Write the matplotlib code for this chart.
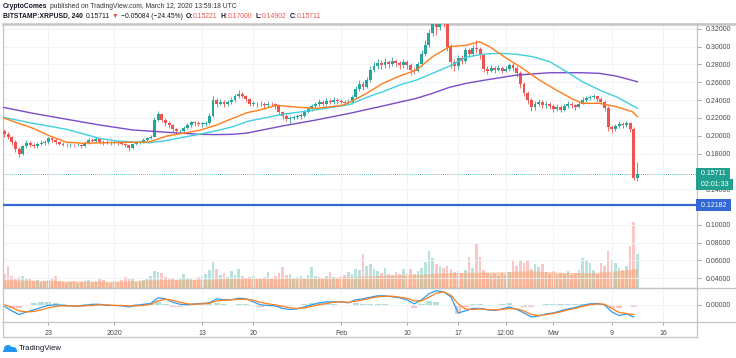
import numpy as np
import pandas as pd
import matplotlib
matplotlib.use("Agg")
import matplotlib.pyplot as plt
from matplotlib.lines import Line2D
from matplotlib.patches import Ellipse, Rectangle

plt.rcParams['font.family'] = ['Liberation Sans', 'DejaVu Sans']

W, H = 736, 358

# BITSTAMP:XRPUSD, resampled to 12h candles
first_candle = '2019-12-17 00:00'
closes = [0.202, 0.198, 0.193, 0.185, 0.180, 0.188, 0.192, 0.190, 0.188, 0.191,
          0.192, 0.193, 0.197, 0.195, 0.193, 0.191, 0.190, 0.189, 0.190, 0.189,
          0.190, 0.188, 0.192, 0.195, 0.194, 0.196, 0.193, 0.192, 0.193, 0.192,
          0.193, 0.192, 0.191, 0.189, 0.186, 0.191, 0.192, 0.193, 0.195, 0.197,
          0.199, 0.218, 0.224, 0.218, 0.214, 0.212, 0.207, 0.205, 0.205, 0.209,
          0.212, 0.215, 0.214, 0.213, 0.213, 0.214, 0.222, 0.240, 0.236, 0.238,
          0.235, 0.238, 0.240, 0.244, 0.247, 0.245, 0.241, 0.236, 0.236, 0.235,
          0.236, 0.234, 0.236, 0.235, 0.233, 0.226, 0.222, 0.219, 0.220, 0.221,
          0.222, 0.222, 0.227, 0.230, 0.233, 0.235, 0.238, 0.236, 0.239, 0.238,
          0.240, 0.239, 0.238, 0.237, 0.238, 0.243, 0.252, 0.258, 0.255, 0.262,
          0.274, 0.278, 0.282, 0.279, 0.283, 0.280, 0.284, 0.281, 0.279, 0.283,
          0.279, 0.274, 0.273, 0.280, 0.292, 0.302, 0.315, 0.330, 0.322, 0.335,
          0.330, 0.300, 0.283, 0.278, 0.287, 0.284, 0.296, 0.292, 0.298, 0.297,
          0.290, 0.275, 0.273, 0.276, 0.274, 0.276, 0.273, 0.275, 0.279, 0.276,
          0.270, 0.258, 0.248, 0.240, 0.232, 0.236, 0.238, 0.234, 0.236, 0.233,
          0.230, 0.232, 0.229, 0.233, 0.236, 0.234, 0.232, 0.236, 0.240, 0.242,
          0.243, 0.244, 0.241, 0.238, 0.231, 0.210, 0.207, 0.211, 0.213, 0.212,
          0.214, 0.208, 0.152, 0.15711]
highs = [0.208, 0.204, 0.200, 0.195, 0.187, 0.190, 0.195, 0.194, 0.192, 0.193,
         0.195, 0.195, 0.199, 0.198, 0.197, 0.194, 0.193, 0.192, 0.192, 0.191,
         0.192, 0.191, 0.194, 0.197, 0.197, 0.198, 0.197, 0.195, 0.195, 0.194,
         0.195, 0.194, 0.193, 0.192, 0.190, 0.192, 0.194, 0.195, 0.197, 0.199,
         0.201, 0.221, 0.228, 0.225, 0.220, 0.216, 0.213, 0.209, 0.208, 0.211,
         0.214, 0.217, 0.217, 0.216, 0.215, 0.216, 0.225, 0.245, 0.242, 0.241,
         0.240, 0.240, 0.243, 0.247, 0.251, 0.249, 0.246, 0.242, 0.239, 0.238,
         0.239, 0.238, 0.239, 0.238, 0.237, 0.234, 0.228, 0.224, 0.222, 0.223,
         0.224, 0.225, 0.229, 0.232, 0.236, 0.238, 0.241, 0.240, 0.242, 0.241,
         0.243, 0.242, 0.241, 0.240, 0.241, 0.246, 0.256, 0.263, 0.261, 0.266,
         0.278, 0.283, 0.286, 0.285, 0.287, 0.285, 0.288, 0.286, 0.284, 0.286,
         0.285, 0.281, 0.277, 0.283, 0.296, 0.307, 0.320, 0.338, 0.334, 0.342,
         0.340, 0.332, 0.303, 0.286, 0.291, 0.290, 0.300, 0.298, 0.302, 0.307,
         0.299, 0.292, 0.278, 0.279, 0.278, 0.279, 0.278, 0.278, 0.282, 0.281,
         0.278, 0.272, 0.260, 0.250, 0.242, 0.239, 0.241, 0.240, 0.239, 0.238,
         0.235, 0.235, 0.234, 0.236, 0.239, 0.238, 0.236, 0.238, 0.243, 0.245,
         0.246, 0.247, 0.245, 0.243, 0.240, 0.233, 0.212, 0.213, 0.216, 0.215,
         0.216, 0.215, 0.210, 0.170]
lows = [0.199, 0.196, 0.190, 0.182, 0.176, 0.178, 0.186, 0.187, 0.186, 0.186,
        0.189, 0.190, 0.191, 0.193, 0.191, 0.189, 0.188, 0.187, 0.187, 0.187,
        0.188, 0.186, 0.187, 0.191, 0.192, 0.193, 0.191, 0.190, 0.191, 0.190,
        0.191, 0.190, 0.189, 0.187, 0.183, 0.185, 0.190, 0.191, 0.192, 0.194,
        0.196, 0.198, 0.216, 0.215, 0.211, 0.209, 0.204, 0.202, 0.203, 0.204,
        0.207, 0.210, 0.211, 0.211, 0.210, 0.211, 0.213, 0.221, 0.232, 0.234,
        0.232, 0.233, 0.236, 0.238, 0.242, 0.242, 0.238, 0.233, 0.233, 0.232,
        0.233, 0.231, 0.232, 0.233, 0.230, 0.223, 0.219, 0.216, 0.214, 0.218,
        0.219, 0.219, 0.221, 0.225, 0.228, 0.231, 0.233, 0.233, 0.234, 0.235,
        0.236, 0.236, 0.235, 0.234, 0.235, 0.236, 0.241, 0.250, 0.251, 0.253,
        0.260, 0.271, 0.275, 0.275, 0.276, 0.276, 0.278, 0.277, 0.275, 0.276,
        0.275, 0.268, 0.269, 0.271, 0.278, 0.289, 0.299, 0.312, 0.313, 0.318,
        0.322, 0.295, 0.276, 0.272, 0.275, 0.280, 0.282, 0.288, 0.289, 0.293,
        0.286, 0.271, 0.269, 0.271, 0.270, 0.272, 0.270, 0.271, 0.273, 0.273,
        0.266, 0.254, 0.244, 0.236, 0.228, 0.229, 0.233, 0.231, 0.231, 0.230,
        0.227, 0.228, 0.226, 0.228, 0.231, 0.231, 0.229, 0.231, 0.235, 0.238,
        0.240, 0.241, 0.238, 0.235, 0.228, 0.205, 0.203, 0.205, 0.209, 0.209,
        0.210, 0.204, 0.150, 0.14902]
opens = [0.205] + closes[:-1]
volumes = [14, 22, 12, 9, 11, 12, 9, 10, 7, 8,
           6, 7, 8, 10, 12, 7, 6, 5, 6, 7,
           5, 6, 7, 8, 6, 7, 9, 8, 6, 5,
           7, 6, 8, 11, 10, 9, 6, 7, 8, 9,
           12, 17, 16, 15, 11, 9, 10, 8, 9, 14,
           10, 9, 8, 11, 12, 14, 18, 26, 19, 13,
           15, 11, 17, 13, 19, 12, 10, 11, 12, 9,
           10, 11, 16, 10, 12, 15, 21, 13, 14, 10,
           11, 12, 9, 13, 21, 12, 11, 10, 12, 16,
           11, 10, 12, 13, 16, 14, 19, 18, 34, 22,
           24, 19, 17, 15, 20, 14, 13, 16, 14, 19,
           15, 19, 14, 17, 20, 26, 37, 30, 24, 22,
           20, 22, 19, 16, 17, 15, 18, 31, 20, 44,
           31, 18, 15, 13, 14, 12, 15, 13, 16, 28,
           22, 27, 25, 28, 19, 24, 21, 24, 16, 14,
           17, 13, 15, 14, 17, 13, 15, 18, 30, 27,
           25, 18, 14, 25, 22, 37, 28, 25, 20, 18,
           22, 42, 66, 34]

# moving averages (days from 2020-01-01, price)
ma_fast_days = [-15.2, -11.1, -8.8, -6.5, -4.3, -2.0, 2.5, 4.8, 7.2, 9.4, 11.7, 14.0, 16.2, 18.2,
                19.5, 22.2, 25.3, 27.6, 31.2, 32.2, 34.5, 36.7, 39.0, 41.3, 43.5, 45.8, 48.1,
                49.9, 51.3, 53.6, 55.8, 58.1, 60.4, 62.7, 64.0, 66.3, 68.6, 70.8, 71.5]
ma_fast = [0.2200, 0.2083, 0.1996, 0.1926, 0.1915, 0.1920, 0.1926, 0.1930, 0.1996, 0.2027,
           0.2060, 0.2120, 0.2195, 0.2260, 0.2280, 0.2340, 0.2318, 0.2307, 0.2340, 0.2375,
           0.2475, 0.2587, 0.2669, 0.2737, 0.2886, 0.2998, 0.3014, 0.3054, 0.2998, 0.2868,
           0.2756, 0.2624, 0.2512, 0.2408, 0.2363, 0.2363, 0.2326, 0.2269, 0.2213]
ma_mid_days = [-15.2, -11.1, -6.5, -2.0, 0.3, 4.8, 7.2, 9.4, 11.7, 14.0, 16.2, 18.2, 23.0, 27.6,
               32.2, 34.5, 36.7, 39.0, 41.3, 43.5, 45.8, 48.1, 50.4, 52.7, 55.0, 57.2, 59.5,
               61.8, 64.0, 66.3, 68.6, 71.5]
ma_mid = [0.2206, 0.2139, 0.2071, 0.1970, 0.1940, 0.1920, 0.1946, 0.1982, 0.2016, 0.2056,
          0.2100, 0.2160, 0.2240, 0.2290, 0.2350, 0.2430, 0.2493, 0.2568, 0.2624, 0.2700,
          0.2780, 0.2880, 0.2915, 0.2924, 0.2913, 0.2886, 0.2830, 0.2718, 0.2605, 0.2512,
          0.2437, 0.2307]
ma_slow_days = [-15.2, -11.1, -6.5, -2.0, 2.5, 7.2, 11.7, 14.0, 16.2, 18.2, 23.0, 27.6, 32.2,
                36.7, 41.3, 43.5, 45.8, 48.1, 50.4, 52.7, 55.0, 59.5, 64.0, 66.3, 68.6, 71.5]
ma_slow = [0.2318, 0.2251, 0.2184, 0.2120, 0.2064, 0.2038, 0.2015, 0.2012, 0.2015, 0.2030,
           0.2109, 0.2176, 0.2251, 0.2333, 0.2419, 0.2475, 0.2542, 0.2587, 0.2620, 0.2650,
           0.2680, 0.2706, 0.2706, 0.2699, 0.2669, 0.2605]

vol_ma_days = [-15.2, -11, -7, -3, 1, 5, 9, 13, 17, 21, 25, 29, 33, 37, 41, 45, 49, 53,
               57, 61, 65, 69, 71.5]
vol_ma = [8, 7.5, 7, 6.5, 6.5, 8, 8.5, 8.5, 10, 10, 10, 10.5, 11, 12.5, 13, 15, 15.5, 16,
          17, 15.5, 15, 17, 19.5]

# MACD (daily samples, in 1e-3 USD), days -15 .. 71
macd_start = -15
macd = [-1.0, -4.2, -6.7, -4.9, -3.5, -1.8, -0.4, 0.0, -0.4, -0.7,
        -1.0, -0.4, 0.4, 0.4, -0.4, -0.4, -0.7, -1.4, -0.4, 0.4,
        1.0, 4.9, 4.2, 1.8, 0.4, 0.0, 0.7, 1.0, 1.4, 4.2,
        3.5, 3.5, 4.6, 4.2, 2.1, 0.0, -0.4, -0.7, -2.5, -3.2,
        -2.8, -1.4, 0.0, 1.4, 2.1, 2.1, 2.1, 1.4, 3.5, 4.2,
        5.3, 6.3, 6.3, 5.6, 4.9, 3.5, 0.7, 3.5, 7.7, 9.8,
        9.1, 5.6, -5.6, -4.2, -2.5, -2.5, -3.5, -3.9, -2.8, -1.4,
        -3.2, -5.6, -8.4, -7.7, -6.3, -5.6, -4.2, -2.8, -1.8, -0.4,
        0.7, 1.0, 0.0, -4.9, -7.4, -6.3, -8.4]
signal = [0.0, -1.8, -4.2, -4.9, -4.6, -3.5, -2.1, -1.0, -0.7, -0.7,
          -0.7, -0.7, -0.4, 0.0, 0.0, -0.4, -0.4, -0.7, -0.7, -0.4,
          0.4, 2.8, 3.9, 3.2, 1.8, 0.7, 0.4, 0.7, 1.0, 2.8,
          3.2, 3.5, 3.9, 3.9, 3.2, 1.8, 0.7, 0.0, -1.0, -2.1,
          -2.5, -2.1, -1.0, 0.0, 1.0, 1.8, 2.1, 1.8, 2.5, 3.5,
          4.6, 5.6, 6.0, 6.0, 5.3, 4.6, 2.8, 2.8, 5.3, 8.1,
          9.1, 6.7, 0.7, -2.8, -3.2, -2.8, -3.2, -3.5, -3.2, -2.5,
          -2.8, -4.2, -6.7, -7.4, -6.7, -6.0, -4.9, -3.5, -2.5, -1.0,
          0.0, 0.7, 0.4, -2.5, -5.3, -6.0, -6.7]

# 0.12 and 0.16 sit under the price tags, so TradingView hides them
price_ticks = [0.04, 0.06, 0.08, 0.10, 0.14, 0.18, 0.20, 0.22, 0.24, 0.26, 0.28, 0.30, 0.32]
time_ticks = [-9, 0, 12, 19, 31, 40, 47, 53.5, 60, 68, 75]
time_labels = ['23', '2020', '13', '20', 'Feb', '10', '17', '12:00', 'Mar', '9', '16']

last_price = 0.15711
alert_level = 0.12182

UP, DOWN = '#26a69a', '#ef5350'
DARK = '#131722'
GRID = '#eef1f6'
BORDER = '#c4c4c4'

# ---------------------------------------------------------------
t = pd.date_range(first_candle, periods=len(closes), freq='12h')
days = ((t - pd.Timestamp('2020-01-01')) / pd.Timedelta(days=1)).values
o = np.array(opens)
c = np.array(closes)
up = c >= o
cols = np.where(up, UP, DOWN)

fig = plt.figure(figsize=(W / 100, H / 100), dpi=100)

ax = fig.add_axes([3 / W, 1 - 287.7 / H, 694 / W, 263.7 / H])
mx = fig.add_axes([3 / W, 1 - 322 / H, 694 / W, 34.3 / H], sharex=ax)
vax = ax.twinx()
ax.set_zorder(vax.get_zorder() + 1)
ax.patch.set_visible(False)

# volume + its average
vax.bar(days, volumes, width=0.36, color=cols, alpha=0.32, linewidth=0)
vax.fill_between(vol_ma_days, 0, vol_ma, color='#ff9a5c', alpha=0.45, linewidth=0)
vax.set_ylim(0, 263.7)
vax.axis('off')

# candles
ax.vlines(days, lows, highs, colors=cols, linewidth=0.6, zorder=3)
ax.bar(days, np.maximum(np.abs(c - o), 0.0008), bottom=np.minimum(o, c), width=0.4,
       color=cols, linewidth=0, zorder=4)

ax.plot(ma_slow_days, ma_slow, color='#7b4bc8', lw=1.0, zorder=5)
ax.plot(ma_mid_days, ma_mid, color='#3fcfe0', lw=1.0, zorder=5)
ax.plot(ma_fast_days, ma_fast, color='#ff7d1a', lw=1.0, zorder=5)

ax.axhline(last_price, color=UP, lw=0.6, ls=(0, (1, 1.5)), zorder=2)
ax.axhline(alert_level, color='#3468d4', lw=1.6, zorder=6)

ax.set_xlim(-15.2, 79.64)
ax.set_ylim(0.02946, 0.32527)
ax.set_yticks(price_ticks)
ax.set_yticklabels(['%.5f' % v for v in price_ticks])
ax.grid(True, color=GRID, lw=0.6)
ax.tick_params(axis='y', left=False, labelleft=False, right=True, labelright=True,
               length=3, width=0.6, color='#9a9a9a', labelsize=5, labelcolor='#4a4a4a', pad=3)
ax.tick_params(axis='x', bottom=False, labelbottom=False)

# MACD pane
md = macd_start + np.arange(len(macd))
hist = np.array(macd) - np.array(signal)
mx.bar(md, hist, width=0.85, color=np.where(hist >= 0, UP, DOWN), alpha=0.35, linewidth=0)
mx.plot(md, macd, color='#2d9cf0', lw=0.9)
mx.plot(md, signal, color='#ff7d1a', lw=0.9)
mx.set_ylim(-11.9, 11.9)
mx.set_yticks([0])
mx.set_yticklabels(['0.00000'])
mx.set_xticks(time_ticks)
mx.set_xticklabels(time_labels)
mx.grid(True, color=GRID, lw=0.6)
mx.tick_params(axis='y', left=False, labelleft=False, right=True, labelright=True,
               length=3, width=0.6, color='#9a9a9a', labelsize=5, labelcolor='#4a4a4a', pad=3)
mx.tick_params(axis='x', length=2, width=0.6, color='#9a9a9a', labelsize=5,
               labelcolor='#4a4a4a', pad=4)

for a in (ax, mx):
    for s in a.spines.values():
        s.set_color(BORDER)
        s.set_linewidth(0.9)
ax.spines['top'].set_linewidth(1.8)


def fline(x0, y0, x1, y1, lw=0.9, color=BORDER):
    fig.add_artist(Line2D([x0 / W, x1 / W], [1 - y0 / H, 1 - y1 / H], color=color, lw=lw,
                          transform=fig.transFigure))


fline(697, 24, 736, 24, lw=1.8)
fline(697, 287.7, 736, 287.7)
fline(697, 322, 736, 322)
fline(3, 322, 3, 337.3)
fline(697, 322, 697, 337.3)
fline(3, 337.3, 697, 337.3)


# price scale tags
def tag(value, text, face, dy=0):
    ax.annotate(text, xy=(1, value), xycoords=('axes fraction', 'data'),
                xytext=(1.2, dy), textcoords='offset points', ha='left', va='center',
                fontsize=5, color='white', annotation_clip=False, zorder=10,
                bbox=dict(boxstyle='square,pad=0.35', fc=face, ec='none'))


tag(last_price, ' %.5f ' % last_price, '#22a08f')
tag(last_price, ' 02:01:33 ', '#22a08f', dy=-7.6)
tag(alert_level, ' %.5f ' % alert_level, '#3468d4')

# header
renderer = fig.canvas.get_renderer()


def header(y_px, parts, fs=4.9):
    x = 3
    for text, color, weight, gap in parts:
        tx = fig.text(x / W, 1 - y_px / H, text, color=color, fontweight=weight,
                      fontsize=fs, ha='left', va='center')
        x += tx.get_window_extent(renderer).width + gap


RED = '#ef5350'
header(6.3, [('CryptoComes', DARK, 'bold', 2.5),
             ('published on TradingView.com, March 12, 2020 13:59:18 UTC', '#333', 'normal', 0)])
header(16.0, [('BITSTAMP:XRPUSD, 240', DARK, 'bold', 3),
              ('0.15711', DARK, 'normal', 2),
              ('\u25bc', RED, 'normal', 2),
              ('\u22120.05084 (\u221224.45%)', DARK, 'normal', 3),
              ('O:', DARK, 'bold', 0), ('0.15221', RED, 'normal', 3),
              ('H:', DARK, 'bold', 0), ('0.17000', RED, 'normal', 3),
              ('L:', DARK, 'bold', 0), ('0.14902', RED, 'normal', 3),
              ('C:', DARK, 'bold', 0), ('0.15711', RED, 'normal', 0)])

# footer logo
fig.add_artist(Ellipse((8 / W, 1 - 348.5 / H), 8 / W, 7 / H, transform=fig.transFigure,
                       color='#2196f3', lw=0))
fig.add_artist(Ellipse((13 / W, 1 - 349.5 / H), 7 / W, 5 / H, transform=fig.transFigure,
                       color='#2196f3', lw=0))
fig.add_artist(Rectangle((3 / W, 1 - 352 / H), 14 / W, 2.5 / H, transform=fig.transFigure,
                         color='#2196f3', lw=0))
fig.text(19 / W, 1 - 348.5 / H, 'TradingView', fontsize=5.6, color=DARK, ha='left', va='center')

fig.savefig('out.png', dpi=100)
